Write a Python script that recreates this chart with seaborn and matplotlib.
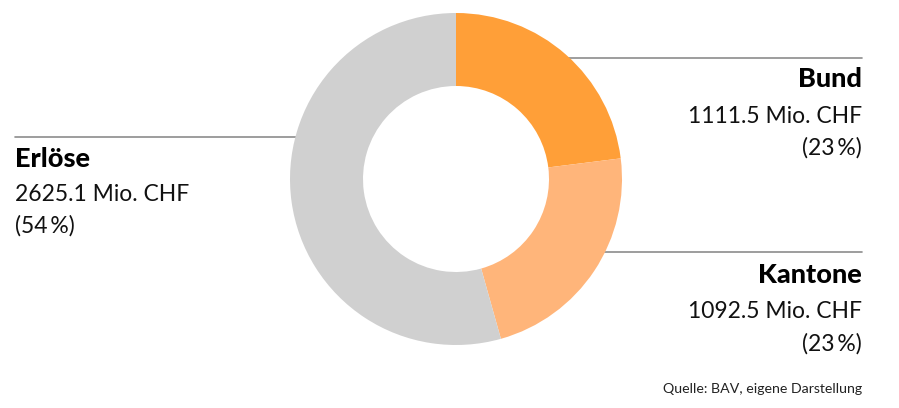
import matplotlib
matplotlib.use("Agg")
import matplotlib.pyplot as plt
import seaborn as sns

# --- data ---
labels = ["Bund", "Kantone", "Erlöse"]
values = [1111.5, 1092.5, 2625.1]
shares = ["(23\u2009%)", "(23\u2009%)", "(54\u2009%)"]
colors = ["#FF9F38", "#FFB57A", "#D0D0D0"]
source = "Quelle: BAV, eigene Darstellung"

sns.set_theme(style="white")
plt.rcParams["font.family"] = ["Lato", "DejaVu Sans"]

W, H = 899, 408
fig = plt.figure(figsize=(W / 100, H / 100), dpi=100)
ax = fig.add_axes([0, 0, 1, 1])

cx, cy = 456, H - 179
r_out, r_in = 166, 93

# leader lines (behind the donut)
line_col = "#8c8c8c"
ax.plot([540, 862], [H - 58, H - 58], color=line_col, lw=1.2, zorder=1)
ax.plot([590, 862], [H - 252, H - 252], color=line_col, lw=1.2, zorder=1)
ax.plot([15, 320], [H - 137, H - 137], color=line_col, lw=1.2, zorder=1)

wedges, _ = ax.pie(values, colors=colors, startangle=90, counterclock=False,
                   center=(cx, cy), radius=r_out, frame=True,
                   wedgeprops=dict(width=r_out - r_in, linewidth=0))
for w in wedges:
    w.set_zorder(2)
ax.set_xlim(0, W)
ax.set_ylim(0, H)
ax.set_aspect("equal")
ax.axis("off")

# labels: (x, ha, baselines of the three lines)
label_pos = {
    "Bund": (862, "right", [87, 123, 155]),
    "Kantone": (862, "right", [283, 318, 351]),
    "Erlöse": (15, "left", [167, 201, 233]),
}
for lab, val, sh in zip(labels, values, shares):
    x, ha, ys = label_pos[lab]
    ax.text(x, H - ys[0], lab, ha=ha, va="baseline", fontsize=19.5,
            fontweight="black", color="black")
    ax.text(x, H - ys[1], f"{val:.1f} Mio. CHF", ha=ha, va="baseline",
            fontsize=16.5, fontweight="normal", color="#111111")
    ax.text(x, H - ys[2], sh, ha=ha, va="baseline", fontsize=16.5,
            fontweight="normal", color="#111111")

ax.text(862, H - 393, source, ha="right", va="baseline", fontsize=10.2,
        color="#222222")

fig.savefig("out.png", dpi=100, facecolor="white")
